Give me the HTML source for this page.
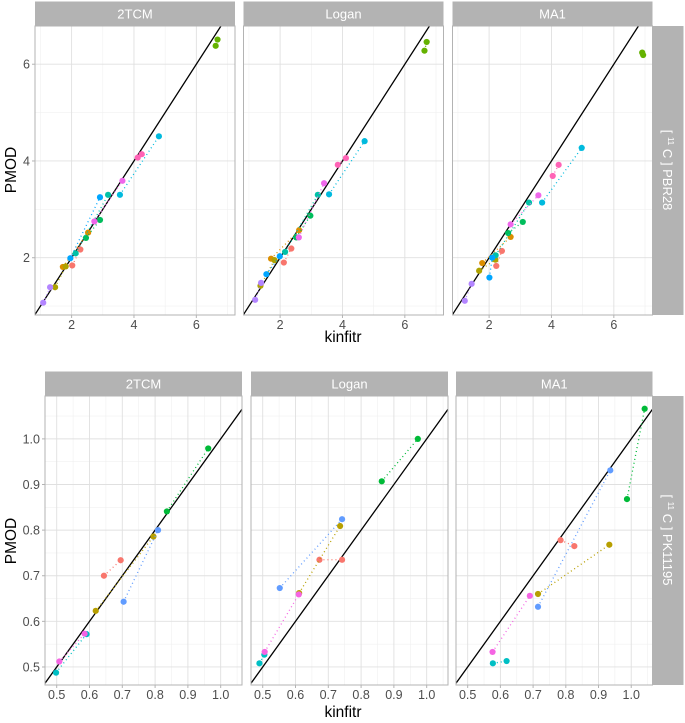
<!DOCTYPE html>
<html><head><meta charset="utf-8">
<style>
html,body{margin:0;padding:0;background:#fff;width:685px;height:723px;overflow:hidden;}
svg{display:block;font-family:"Liberation Sans",sans-serif;}
</style></head>
<body>
<svg id="chart" width="685" height="723" viewBox="0 0 685 723" xmlns="http://www.w3.org/2000/svg">
<defs>
<clipPath id="c0"><rect x="35" y="26" width="200" height="289"/></clipPath>
<clipPath id="c1"><rect x="243.5" y="26" width="200" height="289"/></clipPath>
<clipPath id="c2"><rect x="452.5" y="26" width="200" height="289"/></clipPath>
<clipPath id="c3"><rect x="45" y="396" width="197" height="289"/></clipPath>
<clipPath id="c4"><rect x="251" y="396" width="197" height="289"/></clipPath>
<clipPath id="c5"><rect x="456" y="396" width="196.5" height="289"/></clipPath>
</defs>
<g id="root"></g>
<text transform="translate(16,170) rotate(-90)" text-anchor="middle" font-size="15.5" fill="#000">PMOD</text>
<text transform="translate(16,541) rotate(-90)" text-anchor="middle" font-size="15.5" fill="#000">PMOD</text>
<text x="343" y="342" text-anchor="middle" font-size="15.5" fill="#000">kinfitr</text>
<text x="343" y="717" text-anchor="middle" font-size="15.5" fill="#000">kinfitr</text>
<rect x="652.5" y="26" width="31" height="289" fill="#b3b3b3"/>
<text transform="translate(663,170) rotate(90)" text-anchor="middle" font-size="13" fill="#fff">[ <tspan font-size="8" dy="-5">11</tspan><tspan dy="5"> C ] PBR28</tspan></text>
<rect x="652.5" y="396" width="31" height="289" fill="#b3b3b3"/>
<text transform="translate(663,540) rotate(90)" text-anchor="middle" font-size="13" fill="#fff">[ <tspan font-size="8" dy="-5">11</tspan><tspan dy="5"> C ] PK11195</tspan></text>
</svg>
<script>
// ---- data ----
const methods = ["2TCM","Logan","MA1"];
const pbrColors = ["#F8766D","#DB8E00","#AEA200","#64B200","#00BD5C","#00C1A7","#00BADE","#00A6FF","#B385FF","#EF67EB","#FF63B6"];
const pbr2TCM = [[2.02,1.84,2.28,2.17],[1.72,1.81,2.53,2.52],[1.47,1.39,1.81,1.82],[6.62,6.38,6.68,6.51],[2.46,2.41,2.91,2.78],[2.13,2.09,3.17,3.30],[3.55,3.30,4.80,4.51],[1.96,1.99,2.91,3.25],[1.09,1.07,1.31,1.39],[2.73,2.75,3.63,3.59],[4.12,4.07,4.25,4.14]];
const pbrLogan = [[2.12,1.90,2.36,2.19],[1.71,1.98,2.61,2.57],[1.37,1.42,1.82,1.95],[6.63,6.28,6.70,6.46],[2.52,2.42,2.97,2.87],[2.16,2.12,3.21,3.30],[3.57,3.31,4.71,4.41],[1.56,1.66,1.99,2.03],[1.20,1.13,1.39,1.48],[2.60,2.42,3.41,3.54],[3.85,3.92,4.11,4.06]];
const pbrMA1 = [[2.23,1.83,2.41,2.14],[1.78,1.89,2.69,2.43],[1.68,1.73,2.20,1.96],[6.91,6.24,6.94,6.19],[2.61,2.51,3.08,2.74],[2.21,2.05,3.28,3.14],[3.70,3.14,4.97,4.27],[2.01,1.59,2.10,2.00],[1.22,1.11,1.44,1.46],[2.69,2.69,3.58,3.29],[4.04,3.69,4.23,3.92]];
const pkColors = ["#F8766D","#B79F00","#00BA38","#00BFC4","#619CFF","#F564E3"];
const pk2TCM = [[0.644,0.700,0.695,0.734],[0.619,0.623,0.795,0.786],[0.836,0.841,0.962,0.979],[0.498,0.4875,0.591,0.572],[0.704,0.643,0.809,0.800],[0.508,0.512,0.585,0.573]];
const pkLogan = [[0.673,0.735,0.742,0.735],[0.611,0.662,0.736,0.809],[0.863,0.907,0.973,1.000],[0.490,0.508,0.505,0.527],[0.552,0.673,0.742,0.824],[0.506,0.533,0.610,0.659]];
const pkMA1 = [[0.784,0.778,0.826,0.765],[0.715,0.660,0.933,0.768],[0.987,0.868,1.041,1.066],[0.577,0.508,0.619,0.513],[0.715,0.632,0.936,0.931],[0.576,0.533,0.690,0.656]];
const pbrXTicks = [2,4,6];
const pbrXMinor = [1,3,5,7];
const pbrYTicks = [2,4,6];
const pbrYMinor = [1,3,5];
const pkTicks = [0.5,0.6,0.7,0.8,0.9,1.0];
const pkMinor = [0.55,0.65,0.75,0.85,0.95,1.05];
const pkTickLabels = ["0.5","0.6","0.7","0.8","0.9","1.0"];

const NS="http://www.w3.org/2000/svg";
const root=document.getElementById('root');
function mk(tag,attrs,parent){const e=document.createElementNS(NS,tag);for(const k in attrs)e.setAttribute(k,attrs[k]);(parent||root).appendChild(e);return e;}

function panel(o){
  const sx=v=>o.x+(v-o.xmin)/(o.xmax-o.xmin)*o.w;
  const sy=v=>o.y+o.h-(v-o.ymin)/(o.ymax-o.ymin)*o.h;
  const g=mk('g',{});
  
  
  const strip=mk('rect',{x:o.x,y:o.y-24.5,width:o.w,height:24.5,fill:'#b3b3b3'},g);
  
  
  const st=mk('text',{x:o.x+o.w/2,y:o.y-7.5,'text-anchor':'middle','font-size':13,fill:'#fff'},g);
  st.textContent=o.title;
  
  
  const gg=mk('g',{'clip-path':'url(#'+o.clip+')'},g);
  o.xminor.forEach(v=>mk('line',{x1:sx(v),x2:sx(v),y1:o.y,y2:o.y+o.h,stroke:'#f0f0f0','stroke-width':0.6},gg));
  o.yminor.forEach(v=>mk('line',{y1:sy(v),y2:sy(v),x1:o.x,x2:o.x+o.w,stroke:'#f0f0f0','stroke-width':0.6},gg));
  o.xt.forEach(v=>mk('line',{x1:sx(v),x2:sx(v),y1:o.y,y2:o.y+o.h,stroke:'#e0e0e0','stroke-width':0.9},gg));
  o.yt.forEach(v=>mk('line',{y1:sy(v),y2:sy(v),x1:o.x,x2:o.x+o.w,stroke:'#e0e0e0','stroke-width':0.9},gg));
  const lo=Math.min(o.xmin,o.ymin)-1, hi=Math.max(o.xmax,o.ymax)+1;
  const idl=mk('line',{x1:sx(lo),y1:sy(lo),x2:sx(hi),y2:sy(hi),stroke:'#000','stroke-width':1.3},gg);
  
  
  o.data.forEach((d,i)=>{
    const c=o.colors[i];
    const ln=mk('line',{x1:sx(d[0]),y1:sy(d[1]),x2:sx(d[2]),y2:sy(d[3]),stroke:c,'stroke-width':1.3,'stroke-dasharray':'1 3'},gg);
    
    
    [[d[0],d[1]],[d[2],d[3]]].forEach((p,j)=>{
      const pt=mk('circle',{cx:sx(p[0]),cy:sy(p[1]),r:3.1,fill:c},gg);
      
      
    });
  });
  mk('rect',{x:o.x,y:o.y,width:o.w,height:o.h,fill:'none',stroke:'#b3b3b3','stroke-width':1},g);
  if(o.showX){
    o.xt.forEach((v,i)=>{
      mk('line',{x1:sx(v),x2:sx(v),y1:o.y+o.h,y2:o.y+o.h+3,stroke:'#b3b3b3'},g);
      const t=mk('text',{x:sx(v),y:o.y+o.h+14,'text-anchor':'middle','font-size':12.5,fill:'#4d4d4d'},g);
      t.textContent=o.xl[i];
      
      
    });
  }
  if(o.showY){
    o.yt.forEach((v,i)=>{
      mk('line',{x1:o.x-3,x2:o.x,y1:sy(v),y2:sy(v),stroke:'#b3b3b3'},g);
      const t=mk('text',{x:o.x-5,y:sy(v)+4.5,'text-anchor':'end','font-size':12.5,fill:'#4d4d4d'},g);
      t.textContent=o.yl[i];
      
      
    });
  }
}
const topL=[35,243.5,452.5], botL=[45,251,456];
const pbrData=[pbr2TCM,pbrLogan,pbrMA1], pkData=[pk2TCM,pkLogan,pkMA1];
for(let i=0;i<3;i++){
  panel({name:'pbr28-'+methods[i].toLowerCase()+'-panel',title:methods[i],clip:'c'+i,x:topL[i],y:26,w:200,h:289,
    xmin:0.826,xmax:7.24,ymin:0.816,ymax:6.79,xt:pbrXTicks,xl:pbrXTicks.map(String),yt:pbrYTicks,yl:pbrYTicks.map(String),
    xminor:pbrXMinor,yminor:pbrYMinor,data:pbrData[i],colors:pbrColors,showX:true,showY:i==0});
  panel({name:'pk11195-'+methods[i].toLowerCase()+'-panel',title:methods[i],clip:'c'+(i+3),x:botL[i],y:396,w:i==2?196.5:197,h:289,
    xmin:0.4643,xmax:1.065,ymin:0.4605,ymax:1.094,xt:pkTicks,xl:pkTickLabels,yt:pkTicks,yl:pkTickLabels,
    xminor:pkMinor,yminor:pkMinor,data:pkData[i],colors:pkColors,showX:true,showY:i==0});
}
</script>
</body></html>
